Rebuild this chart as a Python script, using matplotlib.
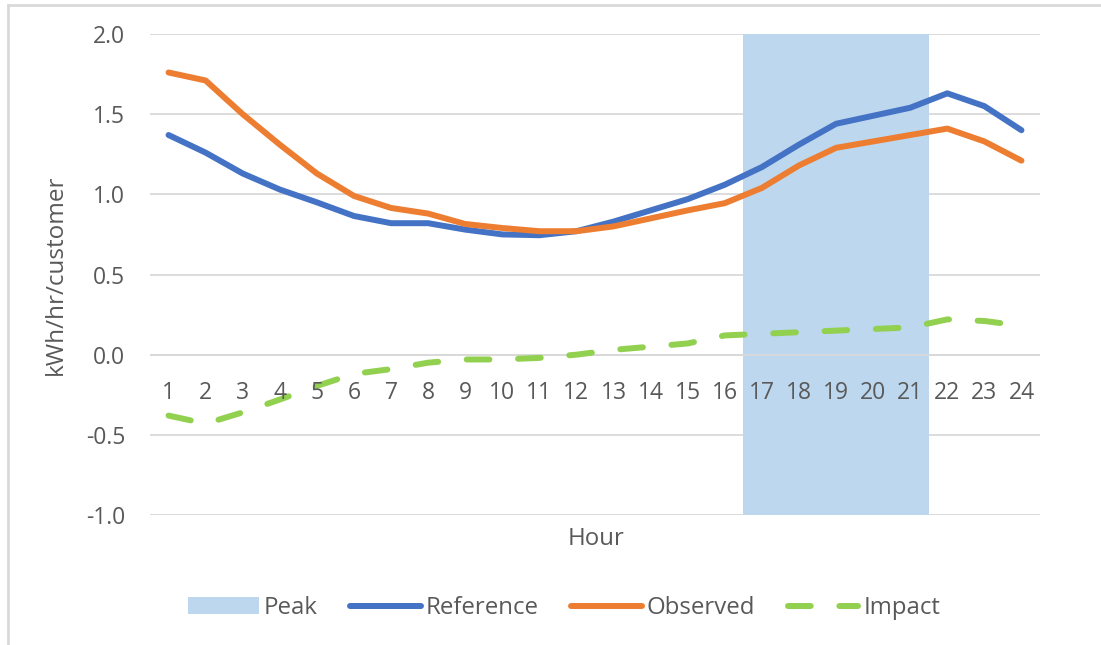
import matplotlib
matplotlib.use("Agg")
import matplotlib.pyplot as plt
from matplotlib.lines import Line2D
import numpy as np

# Hourly load profile data
hours = list(range(1, 25))
hour_labels = [str(h) for h in hours]
reference = [1.37, 1.26, 1.13, 1.03, 0.95, 0.865, 0.82, 0.82, 0.78, 0.75, 0.745, 0.77,
             0.83, 0.90, 0.97, 1.06, 1.17, 1.31, 1.44, 1.49, 1.54, 1.63, 1.55, 1.40]
observed = [1.76, 1.71, 1.50, 1.31, 1.13, 0.99, 0.915, 0.88, 0.815, 0.79, 0.77, 0.77,
            0.80, 0.85, 0.90, 0.945, 1.04, 1.18, 1.29, 1.33, 1.37, 1.41, 1.33, 1.21]
impact = [-0.38, -0.43, -0.36, -0.28, -0.195, -0.12, -0.09, -0.05, -0.03, -0.03, -0.02, 0.0,
          0.03, 0.05, 0.07, 0.12, 0.13, 0.14, 0.15, 0.16, 0.17, 0.22, 0.21, 0.18]
peak = [0] * 16 + [2.0] * 5 + [0] * 3
y_ticks = [-1.0, -0.5, 0.0, 0.5, 1.0, 1.5, 2.0]
y_tick_labels = ["-1.0", "-0.5", "0.0", "0.5", "1.0", "1.5", "2.0"]

C_REF = "#4472C4"
C_OBS = "#ED7D31"
C_IMP = "#92D050"
C_PEAK = "#BDD7EE"
C_GRID = "#D9D9D9"
C_TEXT = "#595959"

plt.rcParams["font.family"] = ["Open Sans", "DejaVu Sans"]
FS = 16.5
FS_LEG = 17.3
LW = 4.3
DASH = (3.8, 4.8)

W, H = 1101, 645
fig = plt.figure(figsize=(W / 100, H / 100), dpi=100)
ax = fig.add_axes([150 / W, 1 - 515 / H, (1040 - 150) / W, (515 - 34) / H])

ymin, ymax = y_ticks[0], y_ticks[-1]
ax.set_ylim(ymin, ymax)
ax.set_xlim(0.5, 24.5)

# Peak window shading
peak_arr = np.array(peak, dtype=float)
mask = peak_arr > 0
ax.bar(np.array(hours)[mask], peak_arr[mask] - ymin, bottom=ymin, width=1.0,
       color=C_PEAK, zorder=1, label="Peak")

# Gridlines
for yv in y_ticks:
    ax.axhline(yv, color=C_GRID, lw=1.3, zorder=0.5)
ax.axhline(0, color=C_GRID, lw=1.3, zorder=1.5)

ax.plot(hours, reference, color=C_REF, lw=LW, solid_capstyle="round",
        solid_joinstyle="round", zorder=3, label="Reference")
ax.plot(hours, observed, color=C_OBS, lw=LW, solid_capstyle="round",
        solid_joinstyle="round", zorder=3, label="Observed")
ax.plot(hours, impact, color=C_IMP, lw=LW, dash_capstyle="round",
        dashes=DASH, zorder=3, label="Impact")

for s in ax.spines.values():
    s.set_visible(False)

ax.set_yticks(y_ticks)
ax.set_yticklabels(y_tick_labels)
ax.tick_params(axis="y", length=0, pad=18, labelsize=FS, labelcolor=C_TEXT)
ax.set_xticks([])

# Category labels sit just below the zero line
for h, lab in zip(hours, hour_labels):
    ax.text(h, -0.276, lab, ha="center", va="baseline", fontsize=FS,
            color=C_TEXT, zorder=4)

fig.text(56 / W, 1 - 275 / H, "kWh/hr/customer", rotation=90, ha="center",
         va="center", fontsize=17.5, color=C_TEXT)
fig.text(596 / W, 1 - 545 / H, "Hour", ha="center", va="baseline",
         fontsize=FS_LEG, color=C_TEXT)

handles, labels = ax.get_legend_handles_labels()
order = [labels.index(n) for n in ["Peak", "Reference", "Observed", "Impact"]]
imp_handle = Line2D([], [], color=C_IMP, lw=LW, dash_capstyle="round",
                    dashes=DASH)
hs = [handles[i] for i in order]
hs[3] = imp_handle
leg = fig.legend(hs, [labels[i] for i in order], loc="center",
                 bbox_to_anchor=(564 / W, 1 - 608 / H), ncol=4, frameon=False,
                 fontsize=FS_LEG, handlelength=2.95, handletextpad=0.2,
                 columnspacing=1.35)
for t in leg.get_texts():
    t.set_color(C_TEXT)

# Chart frame edges
fig.add_artist(Line2D([7.5 / W, 7.5 / W], [0, 1 - 5 / H], transform=fig.transFigure,
                      color=C_GRID, lw=2))
fig.add_artist(Line2D([7.5 / W, 1], [1 - 5 / H, 1 - 5 / H], transform=fig.transFigure,
                      color=C_GRID, lw=2))

fig.savefig("out.png", dpi=100)
